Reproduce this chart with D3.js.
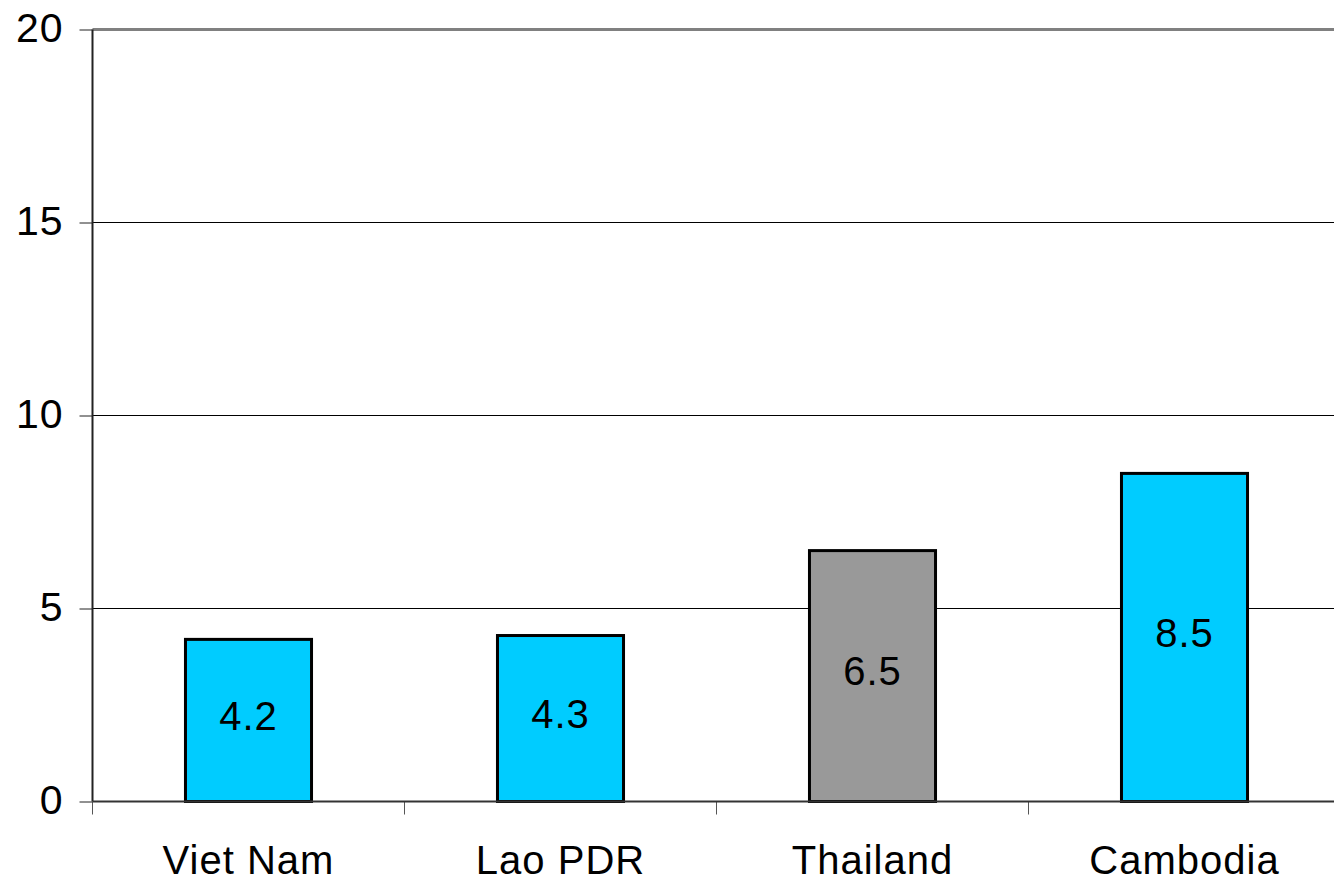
<!DOCTYPE html>
<html>
<head>
<meta charset="utf-8">
<script src="https://cdn.jsdelivr.net/npm/d3@7"></script>
<style>
  body { margin: 0; background: #fff; }
  svg text { font-family: "Liberation Sans", Arial, sans-serif; fill: #000; }
</style>
</head>
<body>
<svg id="chart" width="1334" height="880"></svg>
<script>
const countries = ["Viet Nam", "Lao PDR", "Thailand", "Cambodia"];
const values = [4.2, 4.3, 6.5, 8.5];
const barColors = ["#00CCFF", "#00CCFF", "#999999", "#00CCFF"];
const yTicks = [0, 5, 10, 15, 20];

const margin = { top: 29.5, left: 92.5 };
const width = 1248, height = 772;

const svg = d3.select("#chart");
const g = svg.append("g").attr("transform", `translate(${margin.left}, ${margin.top})`);

const x = d3.scaleBand().domain(countries).range([0, width]).paddingInner(0.596).paddingOuter(0.298);
const y = d3.scaleLinear().domain([0, 20]).range([height, 0]);

// gridlines
g.selectAll(".grid")
    .data(yTicks.filter(d => d > 0))
    .join("line")
    .attr("x1", 0).attr("x2", width)
    .attr("y1", d => y(d)).attr("y2", d => y(d))
    .attr("stroke", d => d === 20 ? "#808080" : "#000")
    .attr("stroke-width", d => d === 20 ? 3 : 1);

// y axis
const yAxis = g.append("g")
    .call(d3.axisLeft(y).tickValues(yTicks).tickSize(13).tickPadding(16).tickFormat(d3.format("d")));
yAxis.select(".domain").attr("stroke", "#222").attr("stroke-width", 2).attr("d", `M0,0V${height}`);
yAxis.selectAll(".tick line").attr("stroke", "#222");
yAxis.selectAll("text").style("font-size", "41px").style("letter-spacing", "1px").attr("dy", "0.3em");

// x axis: tick marks at category boundaries
const step = x.step();
const bounds = d3.range(countries.length).map(i => i * step);
g.selectAll(".xtick")
    .data(bounds)
    .join("line")
    .attr("x1", d => d).attr("x2", d => d)
    .attr("y1", height).attr("y2", height + 13)
    .attr("stroke", "#555");

g.selectAll(".xlabel")
    .data(countries)
    .join("text")
    .attr("x", d => x(d) + x.bandwidth() / 2)
    .attr("y", height + 72)
    .attr("text-anchor", "middle")
    .style("font-size", "40px")
    .style("letter-spacing", "1px")
    .text(d => d);

// bars
const data = countries.map((c, i) => ({ country: c, value: values[i], color: barColors[i] }));
g.selectAll(".bar")
    .data(data)
    .join("rect")
    .attr("x", d => x(d.country))
    .attr("y", d => y(d.value))
    .attr("width", x.bandwidth())
    .attr("height", d => height - y(d.value))
    .attr("fill", d => d.color)
    .attr("stroke", "#000")
    .attr("stroke-width", 3);

// baseline
g.append("line")
    .attr("x1", 0).attr("x2", width)
    .attr("y1", height).attr("y2", height)
    .attr("stroke", "#333").attr("stroke-width", 2);

g.selectAll(".val")
    .data(data)
    .join("text")
    .attr("x", d => x(d.country) + x.bandwidth() / 2)
    .attr("y", d => (y(d.value) + height) / 2 - 5)
    .attr("dy", "0.36em")
    .attr("text-anchor", "middle")
    .style("font-size", "40px")
    .style("letter-spacing", "1px")
    .text(d => d.value.toFixed(1));
</script>
</body>
</html>
